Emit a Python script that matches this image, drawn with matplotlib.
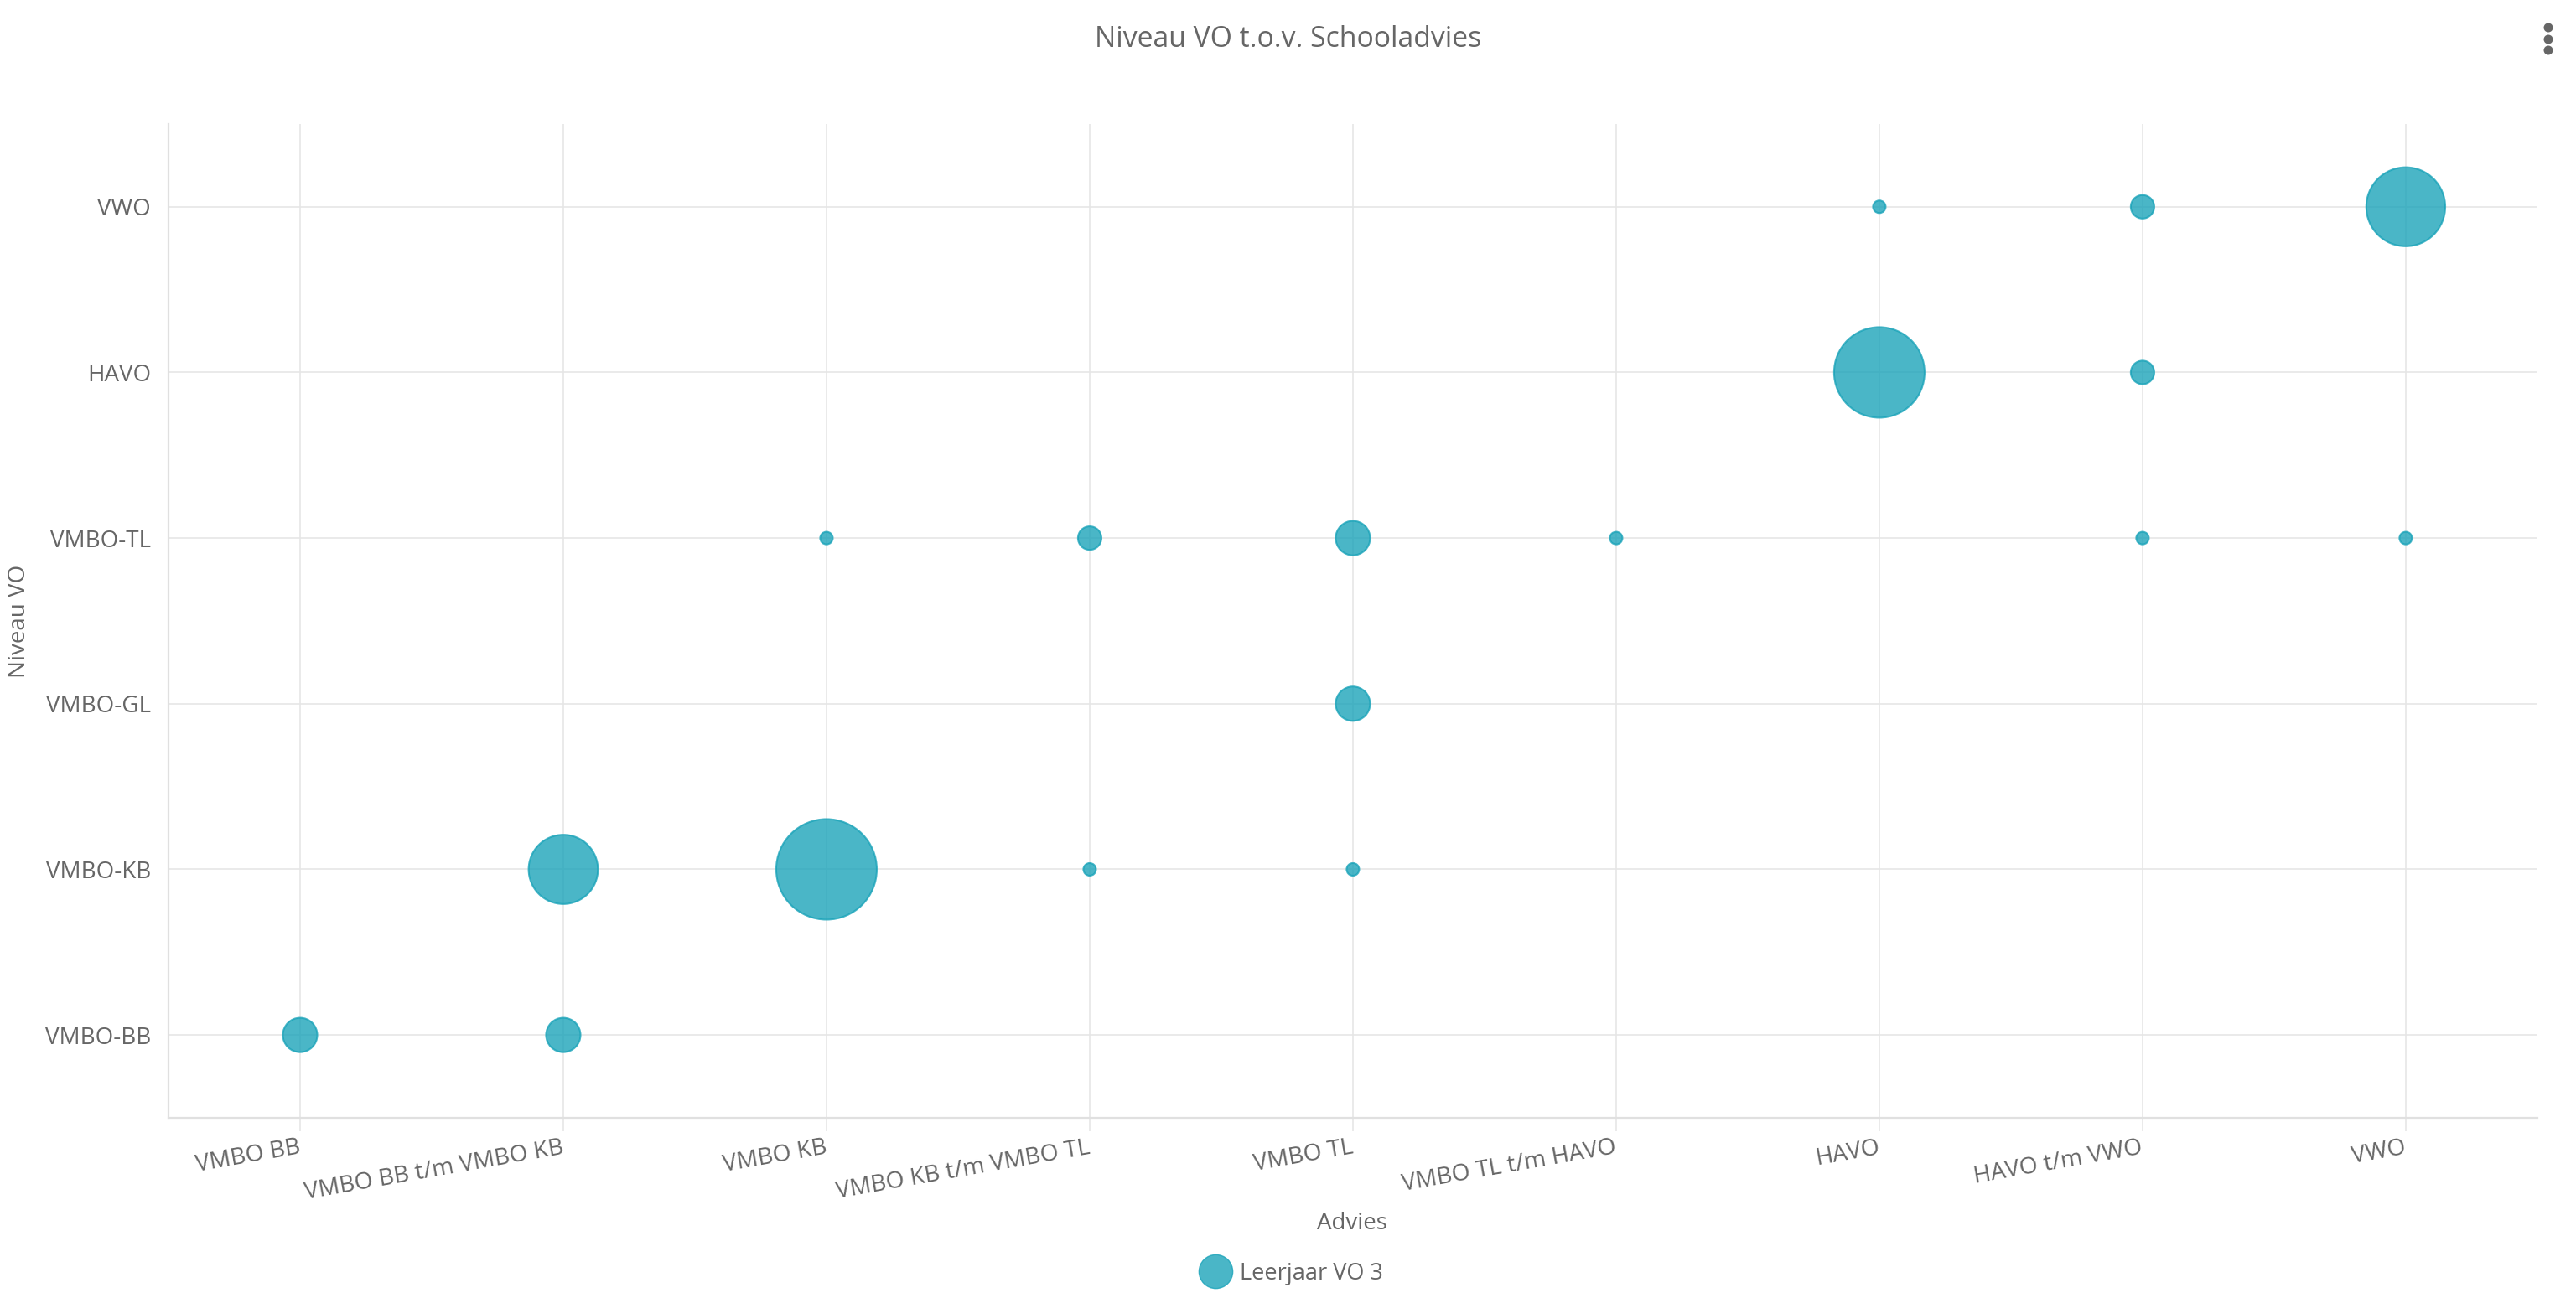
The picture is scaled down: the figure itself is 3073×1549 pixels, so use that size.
import numpy as np
import matplotlib
matplotlib.use("Agg")
import matplotlib.pyplot as plt
from matplotlib.lines import Line2D
from matplotlib.patches import Circle
from matplotlib.transforms import IdentityTransform

# categories
advies = ['VMBO BB', 'VMBO BB t/m VMBO KB', 'VMBO KB', 'VMBO KB t/m VMBO TL',
          'VMBO TL', 'VMBO TL t/m HAVO', 'HAVO', 'HAVO t/m VWO', 'VWO']
niveau = ['VMBO-BB', 'VMBO-KB', 'VMBO-GL', 'VMBO-TL', 'HAVO', 'VWO']

# bubbles (schooladvies, niveau VO, aantal leerlingen)
pt_advies = ['VMBO BB', 'VMBO BB t/m VMBO KB', 'VMBO BB t/m VMBO KB', 'VMBO KB', 'VMBO KB',
             'VMBO KB t/m VMBO TL', 'VMBO KB t/m VMBO TL', 'VMBO TL', 'VMBO TL', 'VMBO TL',
             'VMBO TL t/m HAVO', 'HAVO', 'HAVO', 'HAVO t/m VWO', 'HAVO t/m VWO', 'HAVO t/m VWO',
             'VWO', 'VWO']
pt_niveau = ['VMBO-BB', 'VMBO-BB', 'VMBO-KB', 'VMBO-KB', 'VMBO-TL',
             'VMBO-KB', 'VMBO-TL', 'VMBO-KB', 'VMBO-GL', 'VMBO-TL',
             'VMBO-TL', 'HAVO', 'VWO', 'VMBO-TL', 'HAVO', 'VWO',
             'VMBO-TL', 'VWO']
aantal = [5, 5, 28, 66, 1,
          1, 2, 1, 5, 5,
          1, 52, 1, 1, 2, 2,
          1, 38]

serie_naam = 'Leerjaar VO 3'

FONT = ['Open Sans', 'DejaVu Sans']
plt.rcParams['font.family'] = FONT
TXT = '#666666'
GRID = '#e6e6e6'
FILL = '#17a2b8'

DPI = 100
fig = plt.figure(figsize=(30.73, 15.49), dpi=DPI)
ax = fig.add_axes([0.0654, 0.1388, 0.9196, 0.7657])

x = np.array([advies.index(a) for a in pt_advies])
y = np.array([niveau.index(n) for n in pt_niveau])
z = np.array(aantal, dtype=float)

# bubble size by area, between min and max radius (pixels)
rmin, rmax = 7.5, 60.0
r_px = rmin + (rmax - rmin) * np.sqrt((z - z.min()) / (z.max() - z.min()))
s = (2 * r_px * 72.0 / DPI) ** 2

ax.scatter(x, y, s=s, color=FILL, alpha=0.78, edgecolors=FILL, linewidths=1.5, zorder=3)

ax.set_xlim(-0.5, len(advies) - 0.5)
ax.set_ylim(-0.5, len(niveau) - 0.5)
ax.set_xticks(range(len(advies)))
ax.set_xticklabels(advies, rotation=10, ha='right', va='center', rotation_mode='anchor')
ax.set_yticks(range(len(niveau)))
ax.set_yticklabels(niveau)

ax.grid(True, color=GRID, linewidth=1.2, zorder=0)
ax.set_axisbelow(True)
for side in ['top', 'right']:
    ax.spines[side].set_visible(False)
for side in ['left', 'bottom']:
    ax.spines[side].set_color('#e0e0e0')
    ax.spines[side].set_linewidth(1.6)

ax.tick_params(axis='x', length=11.5, width=1.2, color=GRID, pad=14, labelsize=20.3, labelcolor=TXT)
ax.tick_params(axis='y', length=0, pad=15, labelsize=20, labelcolor=TXT)

ax.set_ylabel('Niveau VO', fontsize=20, color=TXT, labelpad=12)
fig.text(0.5249, 0.0575, 'Advies', ha='center', va='center', fontsize=20, color=TXT)

fig.text(0.5, 0.9697, 'Niveau VO t.o.v. Schooladvies', ha='center', va='center',
         fontsize=24.3, color=TXT)

handle = Line2D([], [], marker='o', linestyle='none', markersize=29,
                markerfacecolor=FILL, markeredgecolor=FILL, alpha=0.78)
fig.legend([handle], [serie_naam], loc='center', bbox_to_anchor=(0.5, 0.019),
           frameon=False, fontsize=19.5, labelcolor=TXT, handletextpad=0.1)

# menu icon (three dots)
H = 1549
for yy in [33, 47, 60]:
    fig.add_artist(Circle((3040, H - yy), 5.5, transform=IdentityTransform(),
                          facecolor='#666666', edgecolor='none'))

fig.savefig('out.png', dpi=DPI)
